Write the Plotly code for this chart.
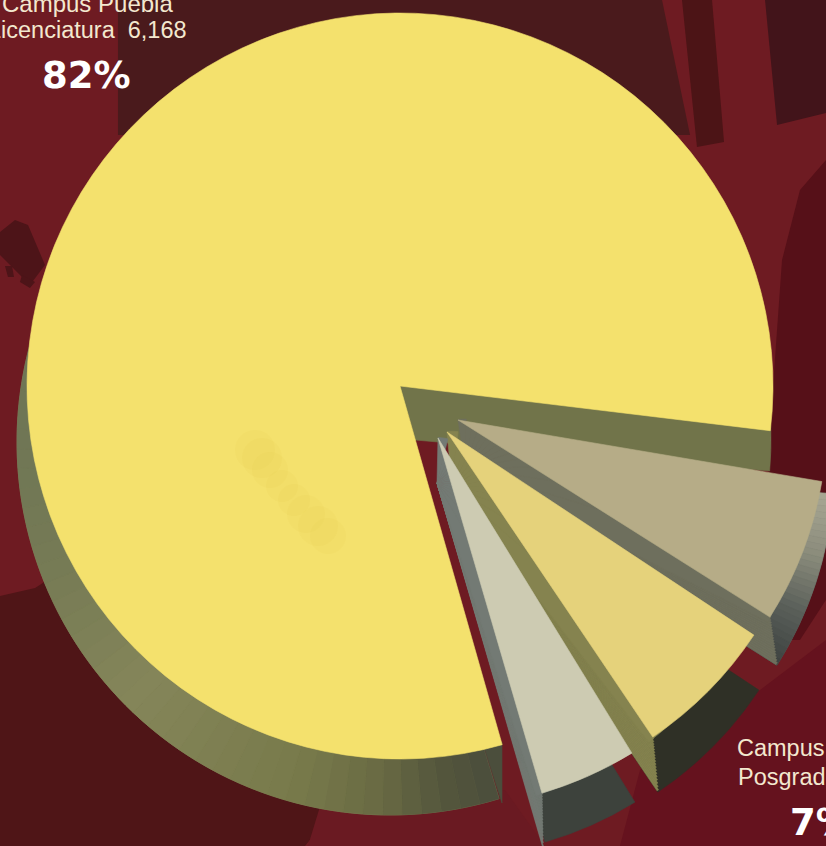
import math
import plotly.graph_objects as go

# Values
campus = ["Campus Puebla Licenciatura", "Campus A", "Campus B", "Campus Posgrado"]
alumnos = [6168, 478, 474, 322]
total_circulo = 7584            # full circle, including the gaps of the exploded slices
rotacion = [164.1, 99.6, 123.5, 148.4]
colores = ["#f4e16d", "#b6ac87", "#e5d27b", "#cdcbb2"]
etiqueta_1 = ["Campus Puebla", "Licenciatura  6,168"]
etiqueta_2 = ["Campus", "Posgrado"]
pct_1, pct_2 = "82%", "7%"

W, H = 960, 960   # page is viewed through an 826x846 window; the rest is cut off


def span(deg):
    return deg / 360 * total_circulo


def pie(cx, cy, r, start, values, cols):
    vals = list(values) + [max(total_circulo - sum(values), 0)]
    return go.Pie(
        values=vals, sort=False, direction="clockwise", rotation=start % 360,
        domain=dict(x=[(cx - r) / W, (cx + r) / W], y=[1 - (cy + r) / H, 1 - (cy - r) / H]),
        marker=dict(colors=list(cols) + ["rgba(0,0,0,0)"],
                    line=dict(width=[0.6] * len(cols) + [0], color=list(cols) + ["rgba(0,0,0,0)"])),
        textinfo="none", hoverinfo="skip", showlegend=False,
    )


def wedge(cx, cy, r, start, value, color):
    return pie(cx, cy, r, start, [value], [color])


def hexrgb(c):
    return tuple(int(c[i:i + 2], 16) for i in (1, 3, 5))


def gradient(cx, cy, r, stops, step):
    """Wall of a slice: one pie whose thin slices step through the stop colours."""
    a0, a1 = stops[0][0], stops[-1][0]
    n = max(int((a1 - a0) / step), 1)
    vals, cols = [], []
    for k in range(n):
        a = a0 + (a1 - a0) * (k + 0.5) / n
        for (p, cp), (q, cq) in zip(stops, stops[1:]):
            if p <= a <= q:
                t = (a - p) / (q - p)
                A, B = hexrgb(cp), hexrgb(cq)
                cols.append("rgb(%d,%d,%d)" % tuple(A[j] + (B[j] - A[j]) * t for j in range(3)))
                break
        vals.append(span((a1 - a0) / n))
    base = wedge(cx, cy, r, a0, span(a1 - a0), stops[len(stops) // 2][1])
    return [base, pie(cx, cy, r, a0, vals, cols)]


def bearing(p, q):
    return math.degrees(math.atan2(q[0] - p[0], p[1] - q[1]))


def ray_to_line(c, theta, a, b):
    dx, dy = math.sin(math.radians(theta)), -math.cos(math.radians(theta))
    ex, ey = b[0] - a[0], b[1] - a[1]
    den = dx * ey - dy * ex
    if abs(den) < 1e-9:
        return math.dist(c, b)
    return abs(((a[0] - c[0]) * ey - (a[1] - c[1]) * ex) / den)


def fan(c, t0, t1, a, b, n, color, slop=0.5, mean=False):
    """Thin wedges around c whose tips follow the straight line a-b."""
    out = []
    for k in range(n):
        s0 = t0 + (t1 - t0) * k / n
        s1 = t0 + (t1 - t0) * (k + 1) / n
        r0, r1 = ray_to_line(c, s0, a, b), ray_to_line(c, s1, a, b)
        r = ((r0 + r1) / 2 if mean else max(r0, r1)) + slop
        out.append(wedge(c[0], c[1], r, s0, span((s1 - s0) * 1.1), color))
    return out


def strip(A, L, F, T, color, n=14):
    """Side strip of a pulled slice: quadrilateral apex A, near tip F, far tip T, lower apex L."""
    tA, tF, tT = bearing(L, A), bearing(L, F), bearing(L, T)
    return fan(L, tF, tT, F, T, 18, color, slop=0, mean=True) + fan(L, tA, tF, A, F, n, color)


traces = []
# main slice: outer wall, corner of the wall, notch wall, top face
traces += gradient(390, 442, 373, [
    (163, "#4b4e3c"), (172, "#55573d"), (182, "#6a6b44"), (195, "#787a4b"),
    (225, "#85865a"), (250, "#767b55"), (275, "#6f7655"), (390, "#6f7655")], 3)
traces.append(wedge(502, 803, 61, 342, span(18), "#4b4e3c"))
traces.append(wedge(415, 440, 356, 345, span(110), "#71744a"))
traces.append(wedge(400, 386, 373, rotacion[0], alumnos[0], colores[0]))

# beige slice (lowest of the three pulled slices)
traces += gradient(465, 468, 369, [(94, "#a9a894"), (104, "#8b8c7c"), (113, "#5c615b"), (122.3, "#3d4240")], 1)
traces += strip((458, 420), (465, 468), (770, 617), (777, 665), "#6e6f5d")
traces.append(wedge(458, 420, 369, rotacion[1], alumnos[1], colores[1]))

# yellow slice
traces.append(wedge(452, 487, 368, rotacion[2], alumnos[2], "#2f3026"))
traces += strip((447, 432), (452, 487), (653, 738), (658, 792), "#85834f")
traces.append(wedge(447, 432, 368, rotacion[2], alumnos[2], colores[2]))

# grey slice (top)
traces.append(wedge(441, 487, 370, rotacion[3], alumnos[3], "#3d423c"))
traces += strip((438, 438), (437, 483), (542, 793), (543, 848), "#737a74")
traces.append(wedge(438, 438, 370, rotacion[3], alumnos[3], colores[3]))

fig = go.Figure(traces)


def P(*pts):
    d = "M" + " L".join(f"{x/W:.4f},{1-y/H:.4f}" for x, y in pts) + " Z"
    return dict(type="path", xref="paper", yref="paper", path=d, line=dict(width=0), layer="below")


def C(x, y, r, col):
    return dict(type="circle", xref="paper", yref="paper", x0=(x - r) / W, x1=(x + r) / W,
                y0=1 - (y + r) / H, y1=1 - (y - r) / H, line=dict(width=0), fillcolor=col, layer="above")


stain = "rgba(226,190,50,0.06)"
shapes = [
    dict(P((118, 0), (662, 0), (690, 135), (118, 135)), fillcolor="#4a1a1c"),
    dict(P((682, 0), (712, 0), (724, 142), (697, 147)), fillcolor="#4c1416"),
    dict(P((765, 0), (826, 0), (826, 113), (777, 125)), fillcolor="#42141a"),
    dict(P((826, 160), (800, 190), (782, 260), (772, 400), (760, 640), (800, 640), (826, 600)), fillcolor="#561018"),
    dict(P((0, 232), (15, 220), (28, 225), (45, 265), (30, 285), (0, 255)), fillcolor="#4d1418"),
    dict(P((5, 266), (12, 266), (14, 277), (8, 277)), fillcolor="#4d1418"),
    dict(P((22, 275), (35, 282), (30, 288), (20, 282)), fillcolor="#4d1418"),
    dict(P((0, 596), (35, 588), (60, 572), (300, 600), (330, 815), (305, 846), (0, 846)), fillcolor="#4f1517"),
    dict(P((322, 800), (505, 790), (545, 846), (308, 846)), fillcolor="#6a1a22"),
    dict(P((640, 770), (760, 690), (826, 640), (826, 846), (620, 846)), fillcolor="#65121e"),
    C(255, 450, 20, stain), C(262, 458, 20, stain), C(270, 470, 18, stain), C(282, 486, 16, stain),
    C(294, 500, 16, stain), C(306, 514, 19, stain), C(318, 526, 20, stain), C(328, 536, 18, stain),
]


def note(x, y, text, size, bold=False, anchor="left", color="#f3e8cf"):
    return dict(
        x=x / W, y=1 - y / H, xref="paper", yref="paper", text=text, showarrow=False,
        xanchor=anchor, yanchor="middle",
        font=dict(family="DejaVu Sans" if bold else "Liberation Sans", size=size, color=color),
    )


notes = [
    note(87, 3, etiqueta_1[0], 24, anchor="center"),
    note(-14, 30, etiqueta_1[1], 23.5),
    note(86, 76, f"<b>{pct_1}</b>", 37, bold=True, anchor="center", color="#ffffff"),
    note(735, 748, etiqueta_2[0], 23.5),
    note(736, 777, etiqueta_2[1], 23.5),
    note(788, 822, f"<b>{pct_2}</b>", 37, bold=True, color="#ffffff"),
]

fig.update_layout(
    width=W, height=H, margin=dict(l=0, r=0, t=0, b=0), autosize=False,
    paper_bgcolor="#6e1b22", shapes=shapes, annotations=notes, showlegend=False,
)
fig.write_html("out.html", config=dict(displayModeBar=False),
               post_script="document.body.style.margin='0';document.body.style.overflow='hidden';document.documentElement.style.overflow='hidden';")
